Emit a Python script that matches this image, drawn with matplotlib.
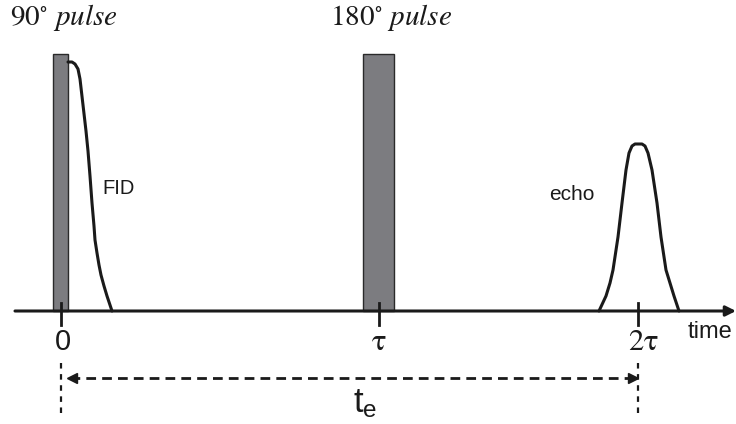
import numpy as np
import matplotlib
matplotlib.use("Agg")
import matplotlib.pyplot as plt

plt.rcParams["mathtext.fontset"] = "stix"

# diagram coordinates: x in px-like units, y = height above the time axis
pulse_names = ["90", "180"]
pulse_left = [53, 363]
pulse_width = [15, 31]
pulse_height = [257, 257]

fid_x = [68, 72, 75, 78, 80, 83, 86, 88, 90, 92, 94, 95, 97, 99, 101, 104, 107, 110, 112]
fid_y = [249, 249, 247, 242, 232, 206, 180, 160, 135, 108, 85, 71, 58, 46, 36, 25, 15, 6, 0]

echo_x = [599, 606, 610, 613, 618, 622, 626, 629, 632, 635, 642, 645, 648, 652, 657, 661, 666, 670, 674, 679]
echo_y = [0, 15, 28, 41, 74, 108, 141, 158, 165, 167, 167, 165, 158, 141, 108, 74, 41, 28, 15, 0]

tick_x = [61, 379, 638]
tick_labels = ["0", r"$\mathrm{\tau}$", r"$\mathrm{2\tau}$"]

fig = plt.figure(figsize=(7.36, 4.24), dpi=100)
ax = fig.add_axes([0, 0, 1, 1])
ax.set_xlim(0, 736)
ax.set_ylim(-113, 311)
ax.axis("off")

lw = 2.2
dark = "#1a1a1a"

# pulses
for left, w, h in zip(pulse_left, pulse_width, pulse_height):
    ax.bar(left, h, width=w, align="edge", color="#7c7c80", edgecolor="#2a2a2a",
           linewidth=1.0, zorder=2)

# time axis with arrow
ax.annotate("", xy=(736, 0), xytext=(15, 0), annotation_clip=False,
            arrowprops=dict(arrowstyle="-|>,head_length=0.6,head_width=0.3",
                            color=dark, lw=lw, shrinkA=0, shrinkB=0), zorder=3)

# signals
ax.plot(fid_x, fid_y, color=dark, lw=lw, solid_capstyle="round", zorder=4)
ax.plot(echo_x, echo_y, color=dark, lw=lw, solid_capstyle="round", zorder=4)

# ticks and labels
for x, lab in zip(tick_x, tick_labels):
    ax.plot([x, x], [8, -14], color=dark, lw=2.0, zorder=5)
    if lab == "0":
        ax.text(x + 2, -31, lab, ha="center", va="center", fontsize=21,
                family="Liberation Sans", color=dark)
    else:
        ax.text(x + (5 if "2" in lab else 0), -31, lab, ha="center", va="center",
                fontsize=22, color=dark)

ax.text(688, -21, "time", ha="left", va="center", fontsize=17,
        family="Liberation Sans", color=dark)

# t_e interval
for x in [tick_x[0], tick_x[2]]:
    ax.plot([x, x], [-52, -102], color=dark, lw=1.6, ls=(0, (2.5, 2.5)))
ax.plot([70, 630], [-67, -67], color=dark, lw=2.0, ls=(0, (3.5, 2.2)))
ax.plot([72], [-67], marker="<", color=dark, ms=7)
ax.plot([633], [-67], marker=">", color=dark, ms=7)
ax.text(365, -93, r"$\mathregular{t_e}$", ha="center", va="center", fontsize=25,
        family="Liberation Sans", color=dark)

# annotations
ax.text(102, 123, "FID", ha="left", va="center", fontsize=14.5,
        family="Liberation Sans", color=dark)
ax.text(549, 117, "echo", ha="left", va="center", fontsize=15,
        family="Liberation Sans", color=dark)
for left, name in zip([10, 330], pulse_names):
    ax.text(left, 286, r"$\mathrm{%s}^{\circ}\ \mathit{pulse}$" % name,
            ha="left", va="baseline", fontsize=21, color=dark)

fig.savefig("out.png", dpi=100)
